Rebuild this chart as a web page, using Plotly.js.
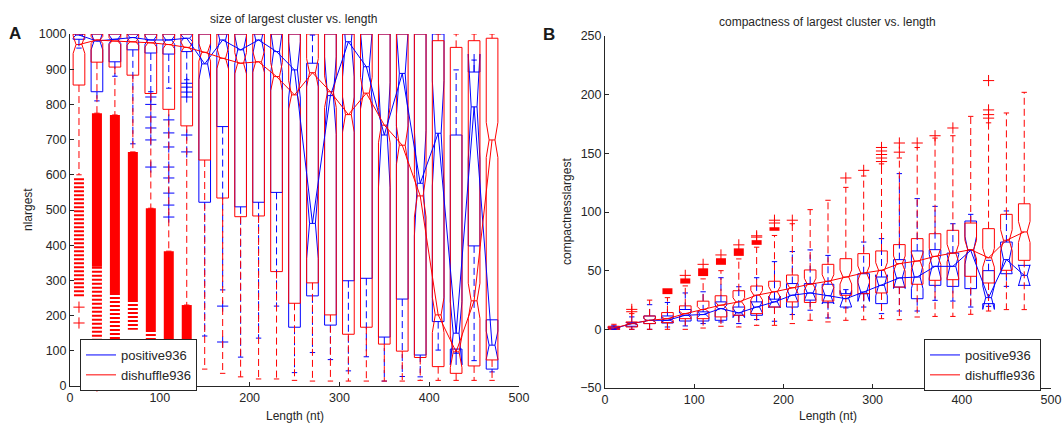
<!DOCTYPE html>
<html><head><meta charset="utf-8">
<script src="https://cdn.plot.ly/plotly-3.0.1.min.js"></script>
<style>html,body{margin:0;padding:0;background:#fff}#chart{width:1064px;height:426px}</style>
</head><body><div id="chart"></div>
<script>
// ---------- shared categories ----------
const positions = [10,30,50,70,90,110,130,150,170,190,210,230,250,270,290,310,330,350,370,390,410,430,450,470];
const xTicks = [0,100,200,300,400,500];
const sizeTicks = [0,100,200,300,400,500,600,700,800,900,1000];
const compTicks = [-50,0,50,100,150,200,250];

// ---------- Panel A: size of largest cluster ----------
const sizePosQ1   = [985,836,921,955,946,943,950,522,737,509,522,550,167,256,173,299,306,139,247,88,183,105,398,48];
const sizePosMed  = [997,980,985,990,983,983,988,915,983,955,983,950,898,462,825,978,907,713,888,576,718,150,793,116];
const sizePosQ3   = [1000,1000,1000,1000,1000,1000,1000,1000,1000,1000,1000,1000,1000,917,1000,1000,1000,1000,1000,1000,1000,713,892,188];
const sizePosLo   = [960,810,880,688,836,846,870,142,273,82,136,227,38,95,75,43,83,14,27,26,102,93,72,40];
const sizePosHi   = [1000,1000,1000,1000,1000,1000,1000,1000,1000,1000,1000,1000,1000,997,1000,1000,1000,1000,1000,1000,1000,898,926,188];
const sizePosNotch= [8,25,12,10,12,12,10,45,35,40,40,60,80,100,110,100,100,150,120,150,150,90,150,40];
const sizePosOutX = [90,90,90,90,90,90,110,110,110,110,110,110,110,110,130,130,130,130,130,130,170,170];
const sizePosOutY = [821,800,764,733,699,622,756,719,679,622,591,548,514,480,860,849,835,821,713,665,227,125];

const sizeShufQ1   = [855,920,906,883,831,786,739,642,534,481,483,325,235,293,202,147,167,119,99,81,55,36,57,74];
const sizeShufMed  = [970,983,980,978,975,970,962,948,931,917,921,879,827,890,836,771,832,741,684,540,202,97,242,699];
const sizeShufQ3   = [1000,1000,1000,1000,1000,1000,1000,1000,1000,1000,1000,1000,1000,1000,1000,1000,1000,1000,1000,1000,981,962,981,988];
const sizeShufLo   = [600,775,770,665,505,383,230,48,36,26,20,20,16,14,14,14,14,14,14,16,16,16,16,16];
const sizeShufHi   = [1000,1000,1000,1000,1000,1000,1000,1000,1000,1000,1000,1000,1000,1000,1000,1000,1000,1000,1000,1000,1000,1000,1000,1000];
const sizeShufNotch= [25,10,10,10,12,12,15,25,30,30,30,40,40,40,45,50,45,50,55,60,50,45,50,50];
const sizeShufDenseX   = [30,50,70,90,110,130];
const sizeShufDenseTop = [775,770,665,505,383,230];
const sizeShufDenseBot = [339,264,244,159,95,95];
const sizeShufStripeX   = [10,30,50,70,90];
const sizeShufStripeTop = [590,339,264,244,159];
const sizeShufStripeBot = [250,95,95,160,95];
const sizeShufOutX = [10,10,30];
const sizeShufOutY = [224,179,0];

// ---------- Panel B: compactness of largest cluster ----------
const compPosQ1   = [0.3,2.6,4.9,5.4,7.1,7.1,7.7,12,12,19,19,24.9,22.7,19,30.4,21.9,36,26.1,37.5,36.6,34.7,21.9,47.4,37.5];
const compPosMed  = [0.6,4.9,7.7,7.7,12,12.6,17.7,14,19,23.4,29.1,31,28.7,26.1,31.8,37.5,43.8,44.6,53.7,53.7,67.3,27,59.4,46];
const compPosQ3   = [2,5.7,11.4,11.4,16.9,14.9,23.4,19,23.4,25.7,39,39,38.4,30.4,47.4,44.6,59.4,66.8,67.9,65,92.3,50,74.4,54.5];
const compPosLo   = [0,0,0,2,2.9,4.9,6.3,4.9,8.3,6.9,12.6,16.3,9.7,18.2,19,13.4,15.6,15.6,24.7,24.1,19,19.6,36.6,37.5];
const compPosHi   = [3,10.6,21,22.9,31,32,44,36.3,44,57.7,66.3,67.7,63,33.8,74.4,77.3,132.7,111.4,104.8,90,98,58.8,100.9,54.5];
const compPosNotch= [0.5,1,1.5,1.5,2,2.5,3,4,5,5,6,6,7,7,8,9,9,10,10,10,12,10,12,9];

const compShufQ1   = [0,2,4.9,5.7,9.1,9.1,10.6,12,13.4,19,23.4,22.9,24.1,29,30.4,31,36,38.4,41.8,42.3,45.2,39.5,50.3,58.8];
const compShufMed  = [1.1,4.9,7.7,9.1,13.4,16.9,20.6,23.4,29.1,32,35.5,38.5,41,44.6,48,50.3,56,58.2,62.2,65,67.9,61,75.9,83];
const compShufQ3   = [2.6,6.3,11.4,14.3,20,24,28.6,32.9,36.9,41,46.3,50.6,55.4,60.2,64.5,66.8,72.2,77.3,81.5,84.4,90.6,85.8,98,107];
const compShufLo   = [0,0,0,0,0,1.1,2.6,2,3.4,3.4,4.9,7.7,6.3,7.7,8.2,9.1,8.2,10.5,11,11,12.8,15.6,16.8,16.8];
const compShufHi   = [4.3,13.4,24.9,27,37,43,50,60,70,80,90,102,110,121,130.7,141,146,155,163,165,181.5,176,184.4,202];
const compShufNotch= [0.5,1,1.5,1.5,2,2.5,3,3.5,4,4.5,5,5,5.5,6,6,6.5,6.5,7,7,7.5,8,8,9,9];
const compShufDenseX   = [70,90,110,130,150,170,190];
const compShufDenseTop = [35,43.4,52,60.6,69,76,87];
const compShufDenseBot = [30,39,45.4,55,62.6,72,84];
const compShufOutX = [30,30,90,110,130,150,170,170,190,190,210,270,290,310,310,310,310,310,330,330,350,370,390,430,430,430,430];
const compShufOutY = [15,17,46,55.4,63.4,72,78.6,79.7,90.6,93,93,129,135.5,143,146,149,152,155,151,158.8,158.8,165,171.6,180,183,187,212];

// ---------- styling ----------
const BLUE = '#0000ff', RED = '#ff0000', INK = '#262626';
const FONT = 'Liberation Sans, Arial, sans-serif';
const BOXW = 13, CAPHALF = 3;

function boxTrace(xa, ya, q1, med, q3, notch, color) {
  return {type:'box', xaxis:xa, yaxis:ya, x:positions, q1:q1, median:med, q3:q3,
    lowerfence:q1, upperfence:q3, notchspan:notch, notched:true, notchwidth:0.55,
    width:BOXW, whiskerwidth:0, boxpoints:false, line:{color:color, width:1},
    fillcolor:'rgba(0,0,0,0)', showlegend:false, hoverinfo:'skip'};
}
function whiskers(xa, ya, q1, q3, lo, hi, color) {
  const wx = [], wy = [], cx = [], cy = [];
  positions.forEach((p, i) => {
    if (lo[i] < q1[i]) { wx.push(p, p, null); wy.push(q1[i], lo[i], null);
      cx.push(p - CAPHALF, p + CAPHALF, null); cy.push(lo[i], lo[i], null); }
    if (hi[i] > q3[i]) { wx.push(p, p, null); wy.push(q3[i], hi[i], null);
      cx.push(p - CAPHALF, p + CAPHALF, null); cy.push(hi[i], hi[i], null); }
  });
  return [
    {type:'scatter', mode:'lines', xaxis:xa, yaxis:ya, x:wx, y:wy, line:{color:color, width:1, dash:'7px,4px'}, showlegend:false, hoverinfo:'skip'},
    {type:'scatter', mode:'lines', xaxis:xa, yaxis:ya, x:cx, y:cy, line:{color:color, width:1}, showlegend:false, hoverinfo:'skip', cliponaxis:false}
  ];
}
function outliers(xa, ya, ox, oy, color) {
  return {type:'scatter', mode:'markers', xaxis:xa, yaxis:ya, x:ox, y:oy,
    marker:{symbol:'cross-thin-open', size:8, color:color, line:{color:color, width:1}},
    showlegend:false, hoverinfo:'skip', cliponaxis:false};
}
function columns(xa, ya, cx, top, bot, color, width, dash) {
  const x = [], y = [];
  cx.forEach((p, i) => { x.push(p, p, null); y.push(top[i], bot[i], null); });
  return {type:'scatter', mode:'lines', xaxis:xa, yaxis:ya, x:x, y:y,
    line:{color:color, width:width, dash:dash || 'solid'}, showlegend:false, hoverinfo:'skip'};
}
function medLine(xa, ya, med, color, name, legend) {
  return {type:'scatter', mode:'lines', xaxis:xa, yaxis:ya, x:positions, y:med,
    line:{color:color, width:1}, name:name, legend:legend, hoverinfo:'skip'};
}

const traces = [];
// Panel A
traces.push(columns('x','y', sizeShufStripeX, sizeShufStripeTop, sizeShufStripeBot, RED, 10, '2px,2px'));
traces.push(columns('x','y', sizeShufDenseX, sizeShufDenseTop, sizeShufDenseBot, RED, 10));
traces.push(outliers('x','y', sizeShufOutX, sizeShufOutY, RED));
traces.push(boxTrace('x','y', sizePosQ1, sizePosMed, sizePosQ3, sizePosNotch, BLUE));
traces.push(...whiskers('x','y', sizePosQ1, sizePosQ3, sizePosLo, sizePosHi, BLUE));
traces.push(outliers('x','y', sizePosOutX, sizePosOutY, BLUE));
traces.push(boxTrace('x','y', sizeShufQ1, sizeShufMed, sizeShufQ3, sizeShufNotch, RED));
traces.push(...whiskers('x','y', sizeShufQ1, sizeShufQ3, sizeShufLo, sizeShufHi, RED));
traces.push(medLine('x','y', sizePosMed, BLUE, 'positive936', 'legend'));
traces.push(medLine('x','y', sizeShufMed, RED, 'dishuffle936', 'legend'));
// Panel B
traces.push(columns('x2','y2', compShufDenseX, compShufDenseTop, compShufDenseBot, RED, 10));
traces.push(outliers('x2','y2', compShufOutX, compShufOutY, RED));
traces.push(boxTrace('x2','y2', compPosQ1, compPosMed, compPosQ3, compPosNotch, BLUE));
traces.push(...whiskers('x2','y2', compPosQ1, compPosQ3, compPosLo, compPosHi, BLUE));
traces.push(boxTrace('x2','y2', compShufQ1, compShufMed, compShufQ3, compShufNotch, RED));
traces.push(...whiskers('x2','y2', compShufQ1, compShufQ3, compShufLo, compShufHi, RED));
traces.push(medLine('x2','y2', compPosMed, BLUE, 'positive936', 'legend2'));
traces.push(medLine('x2','y2', compShufMed, RED, 'dishuffle936', 'legend2'));

const W = 1064, H = 426;
const px = v => v / W, py = v => 1 - v / H;

function xAxis(domain, anchor) {
  return {domain:domain, anchor:anchor, range:[0,500], tickvals:xTicks, ticks:'inside', ticklen:4,
    tickcolor:INK, showline:true, linecolor:INK, linewidth:1, showgrid:false, zeroline:false,
    tickfont:{family:FONT, size:12.5, color:INK}, fixedrange:true};
}
function yAxis(domain, anchor, range, ticks) {
  return {domain:domain, anchor:anchor, range:range, tickvals:ticks, ticks:'inside', ticklen:4,
    tickcolor:INK, showline:true, linecolor:INK, linewidth:1, showgrid:false, zeroline:false,
    tickfont:{family:FONT, size:12.5, color:INK}, fixedrange:true};
}
const legendStyle = {bgcolor:'#ffffff', bordercolor:INK, borderwidth:1,
  font:{family:FONT, size:13, color:INK}, xanchor:'left', yanchor:'top', tracegroupgap:0};

const ann = (x, y, text, opts) => Object.assign({xref:'paper', yref:'paper', x:px(x), y:py(y), text:text,
  showarrow:false, xanchor:'center', yanchor:'middle', font:{family:FONT, size:12, color:INK}}, opts || {});

const layout = {
  width:W, height:H, margin:{l:0, r:0, t:0, b:0}, paper_bgcolor:'#fff', plot_bgcolor:'#fff',
  boxmode:'overlay', boxgap:0, boxgroupgap:0, showlegend:true,
  xaxis: xAxis([px(70), px(519)], 'y'),
  yaxis: yAxis([py(386), py(34)], 'x', [0,1000], sizeTicks),
  xaxis2: xAxis([px(605), px(1051)], 'y2'),
  yaxis2: yAxis([py(388), py(36)], 'x2', [-50,250], compTicks),
  legend: Object.assign({x:px(80), y:py(339)}, legendStyle),
  legend2: Object.assign({x:px(924), y:py(339)}, legendStyle),
  annotations: [
    ann(293, 19, 'size of largest cluster vs. length'),
    ann(827, 22, 'compactness of largest cluster vs. length'),
    ann(295, 416, 'Length (nt)'),
    ann(828, 416, 'Length (nt)'),
    ann(28, 210, 'nlargest', {textangle:-90}),
    ann(567, 212, 'compactnesslargest', {textangle:-90}),
    ann(15, 33, '<b>A</b>', {font:{family:FONT, size:17, color:'#1a1a1a'}}),
    ann(549, 35, '<b>B</b>', {font:{family:FONT, size:17, color:'#1a1a1a'}})
  ]
};

Plotly.newPlot('chart', traces, layout, {staticPlot:true, displayModeBar:false});
</script></body></html>
